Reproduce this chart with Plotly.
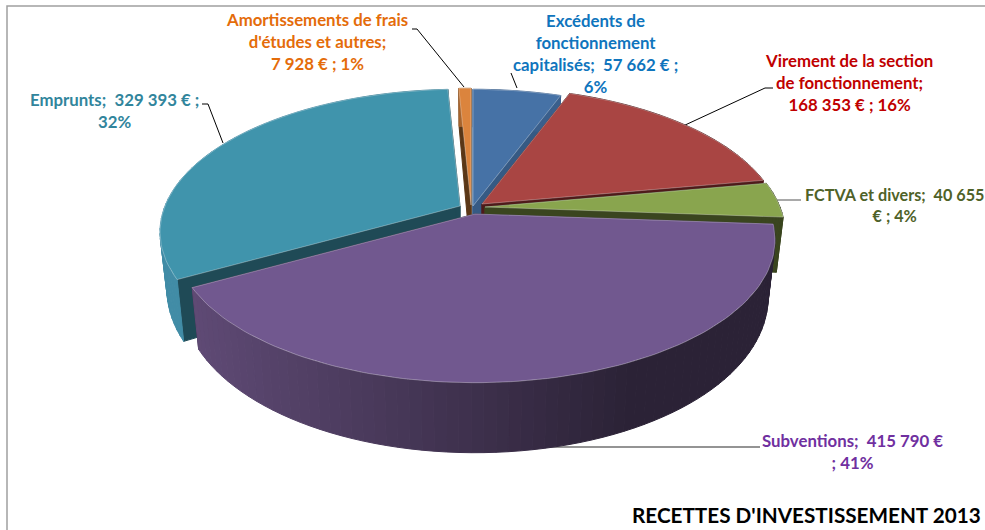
import math
import plotly.graph_objects as go

# --- data ---
categories = ["Excédents de fonctionnement capitalisés", "Virement de la section de fonctionnement",
              "FCTVA et divers", "Subventions", "Emprunts", "Amortissements de frais d'études et autres"]
values = [57662, 168353, 40655, 415790, 329393, 7928]
label_texts = [
    "Excédents de<br>fonctionnement<br>capitalisés;  57 662 € ;<br>6%",
    "Virement de la section<br>de fonctionnement;<br>168 353 € ; 16%",
    "FCTVA et divers;  40 655<br>€ ; 4%",
    "Subventions;  415 790 €<br>; 41%",
    "Emprunts;  329 393 € ;<br>32%",
    "Amortissements de frais<br>d'études et autres;<br>7 928 € ; 1%",
]
title_text = "RECETTES D'INVESTISSEMENT 2013"

# --- style ---
face_colors = ["#4672a6", "#a94543", "#89a54e", "#71588f", "#4094ac", "#db843d"]
wall_colors = ["#365a84", "#4f1a1a", "#3a451f", "#3a2c4c", "#1f4a56", "#5a3717"]
rim_left = ["#3a5f8c", "#7a2f2f", "#3a451f", "#5f4a75", "#418ca6", "#a8642c"]
rim_right = ["#3a5f8c", "#4f1a1a", "#3a451f", "#2b2236", "#2c6a7e", "#a8642c"]
text_colors = ["#0f75bd", "#c00000", "#4f6228", "#7030a0", "#31859c", "#e46c0a"]
label_sizes = [16.8, 16.8, 16.2, 16.8, 16.8, 16.8]
apex_x = [473, 482, 485, 475, 460, 471]
apex_y = [206, 204, 207, 214, 206, 205]
label_x = [595, 849, 894, 852, 114, 317]
label_y = [53, 82, 205, 451, 110, 41]
leaders = [
    ([511, 517], [73, 88], "#000000", 1),
    ([773, 765, 683], [88, 88, 126], "#000000", 1),
    ([777, 801], [200, 200], "#707070", 1.2),
    ([492, 760], [447, 447], "#707070", 1.6),
    ([202, 208, 223], [104, 104, 143], "#000000", 1),
    ([412, 417, 464], [29, 29, 87], "#000000", 1),
]
RX, RY, K = 295.0, 138.0, 0.182
DEPTH, DEPTH_TILT, BOTTOM_SCALE = 54.0, 16.0, 0.977


def top_point(ax, ay, deg):
    t = math.radians(deg)
    X, Y = math.sin(t), math.cos(t)
    w = 1 + K * Y
    return ax + RX * X / w, ay - RY * Y / w


def bottom_point(ax, ay, deg):
    t = math.radians(deg)
    x, y = top_point(ax, ay, deg)
    return ax + (x - ax) * BOTTOM_SCALE, y + DEPTH - DEPTH_TILT * math.cos(t)


def mix(c1, c2, f):
    a = [int(c1[i:i + 2], 16) for i in (1, 3, 5)]
    b = [int(c2[i:i + 2], 16) for i in (1, 3, 5)]
    return "#%02x%02x%02x" % tuple(round(p + (q - p) * f) for p, q in zip(a, b))


def poly(xs, ys, fill, line=None, width=1):
    return go.Scatter(x=xs + xs[:1], y=ys + ys[:1], mode="lines", fill="toself", fillcolor=fill,
                      line=dict(color=line or fill, width=width), hoverinfo="skip", showlegend=False)


total = sum(values)
spans = []
acc = 0.0
for v in values:
    spans.append((acc, acc + v / total * 360))
    acc += v / total * 360

fig = go.Figure()
for i in [0, 5, 4, 1, 2, 3]:
    a0, a1 = spans[i]
    ax, ay = apex_x[i], apex_y[i]
    # radial walls
    for deg in (a0, a1):
        px, py = top_point(ax, ay, deg)
        qx, qy = bottom_point(ax, ay, deg)
        fig.add_trace(poly([ax, px, qx, ax], [ay, py, qy, ay + DEPTH], wall_colors[i]))
    # curved rim, shaded from left to right
    n = max(2, int((a1 - a0) / 2))
    for j in range(n):
        d0 = a0 + (a1 - a0) * j / n
        d1 = a0 + (a1 - a0) * (j + 1) / n
        p0, p1 = top_point(ax, ay, d0), top_point(ax, ay, d1)
        q0, q1 = bottom_point(ax, ay, d0), bottom_point(ax, ay, d1)
        f = min(1, max(0, ((p0[0] + p1[0]) / 2 - 190) / 440))
        col = mix(rim_left[i], rim_right[i], f)
        fig.add_trace(poly([p0[0], p1[0], q1[0], q0[0]], [p0[1], p1[1], q1[1], q0[1]], col))
    # top face
    n = max(3, int((a1 - a0) / 1.5))
    pts = [top_point(ax, ay, a0 + (a1 - a0) * j / n) for j in range(n + 1)]
    fig.add_trace(poly([ax] + [p[0] for p in pts], [ay] + [p[1] for p in pts], face_colors[i],
                       line="rgba(255,255,255,0.3)", width=1))

for i, t in enumerate(label_texts):
    fig.add_annotation(x=label_x[i], y=label_y[i], text=t, showarrow=False, align="center",
                       xanchor="center", yanchor="middle",
                       font=dict(family="Lato", size=label_sizes[i], color=text_colors[i], weight=700))
fig.add_annotation(x=983, y=515, text=title_text, showarrow=False, xanchor="right", yanchor="middle",
                   font=dict(family="Lato", size=20.7, color="#000000", weight=700))

shapes = [dict(type="path", path="M 7 530 L 7 6 L 985 6", xref="x", yref="y",
               line=dict(color="#a0a0a0", width=1.5))]
for xs, ys, c, w in leaders:
    path = "M " + " L ".join(f"{a} {b}" for a, b in zip(xs, ys))
    shapes.append(dict(type="path", path=path, xref="x", yref="y", layer="below", line=dict(color=c, width=w)))

fig.update_layout(width=985, height=530, margin=dict(l=0, r=0, t=0, b=0), autosize=False,
                  paper_bgcolor="white", plot_bgcolor="rgba(0,0,0,0)", shapes=shapes, showlegend=False,
                  xaxis=dict(range=[0, 985], visible=False, fixedrange=True),
                  yaxis=dict(range=[530, 0], visible=False, fixedrange=True))
fig.write_html("out.html", config=dict(displayModeBar=False),
               post_script="document.body.style.margin='0';document.documentElement.style.overflow='hidden';")
